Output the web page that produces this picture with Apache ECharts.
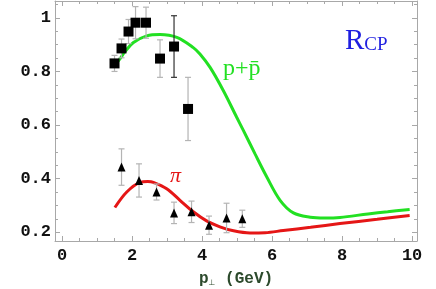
<!DOCTYPE html>
<html><head><meta charset="utf-8">
<script src="https://cdn.jsdelivr.net/npm/echarts@6/dist/echarts.min.js"></script>
<style>html,body{margin:0;padding:0;background:#fff}#c{width:436px;height:289px}</style>
</head><body><div id="c"></div>
<script>
// ---- data ----
const protonX   = [1.5, 1.7, 1.9, 2.1, 2.4, 2.8, 3.2, 3.6];
const protonY   = [0.830, 0.886, 0.949, 0.982, 0.982, 0.848, 0.893, 0.660];
const protonErr = [0.030, 0.035, 0.045, 0.060, 0.058, 0.070, 0.115, 0.118];

const pionX   = [1.7, 2.2, 2.7, 3.2, 3.7, 4.2, 4.7, 5.15];
const pionY   = [0.443, 0.393, 0.350, 0.272, 0.276, 0.226, 0.253, 0.250];
const pionErr = [0.068, 0.062, 0.030, 0.040, 0.040, 0.034, 0.055, 0.032];

const protonCurveX = [1.55, 1.66, 1.8, 2.04, 2.42, 2.8, 3.28, 3.75, 3.94, 4.23, 4.61, 4.99, 5.18, 5.51, 5.85, 6.23, 6.61, 7.09, 7.5, 7.94, 8.74, 9.3, 9.93];
const protonCurveY = [0.830, 0.848, 0.874, 0.908, 0.933, 0.938, 0.927, 0.889, 0.865, 0.815, 0.728, 0.629, 0.580, 0.493, 0.406, 0.319, 0.272, 0.256, 0.253, 0.255, 0.268, 0.276, 0.285];

const pionCurveX = [1.51, 1.85, 2.23, 2.45, 2.61, 2.99, 3.37, 3.75, 4.13, 4.51, 4.9, 5.37, 5.8, 6.32, 7.1, 7.94, 9.0, 9.93];
const pionCurveY = [0.292, 0.350, 0.386, 0.389, 0.386, 0.362, 0.319, 0.276, 0.242, 0.220, 0.205, 0.197, 0.198, 0.206, 0.218, 0.232, 0.248, 0.262];

const xMajorTicks = [0, 2, 4, 6, 8, 10];
const xMinorTicks = [0.5, 1, 1.5, 2.5, 3, 3.5, 4.5, 5, 5.5, 6.5, 7, 7.5, 8.5, 9, 9.5];
const yMajorTicks = [0.2, 0.4, 0.6, 0.8, 1.0];
const yMinorTicks = [0.25, 0.3, 0.35, 0.45, 0.5, 0.55, 0.65, 0.7, 0.75, 0.85, 0.9, 0.95, 1.05];
const yTickLabels = ['0.2', '0.4', '0.6', '0.8', '1'];

// ---- chart ----
const XMIN = -0.2, XMAX = 10.14, YMIN = 0.167, YMAX = 1.063;
const frameColor = '#a8a8a8';
const tickFont = {fontFamily: 'Liberation Mono', fontWeight: 'bold', fontSize: 17, color: '#111'};

function xAx(pos, ticks, len, withLine, withLabel) {
  return {
    type: 'value', min: XMIN, max: XMAX, position: pos, gridIndex: 0,
    axisLine: {show: withLine, onZero: false, lineStyle: {color: frameColor, width: 1}},
    axisTick: {show: true, inside: true, length: len, customValues: ticks, lineStyle: {color: frameColor}},
    axisLabel: withLabel ? Object.assign({show: true, margin: 6, customValues: ticks}, tickFont) : {show: false},
    splitLine: {show: false},
    name: withLabel ? '{p|p}{s|⊥}{g| (GeV)}' : '',
    nameLocation: 'middle', nameGap: 30,
    nameTextStyle: {rich: {
      p: {fontFamily: 'Liberation Mono', fontWeight: 'bold', fontSize: 16, color: '#2c4a2c'},
      s: {fontFamily: 'DejaVu Sans', fontSize: 8, color: '#2c4a2c', verticalAlign: 'bottom', padding: [6, 0, 0, 0]},
      g: {fontFamily: 'Liberation Mono', fontWeight: 'bold', fontSize: 16, color: '#2c4a2c'}
    }}
  };
}
function yAx(pos, ticks, len, withLine, withLabel) {
  return {
    type: 'value', min: YMIN, max: YMAX, position: pos, gridIndex: 0,
    axisLine: {show: withLine, onZero: false, lineStyle: {color: frameColor, width: 1}},
    axisTick: {show: true, inside: true, length: len, customValues: ticks, lineStyle: {color: frameColor}},
    axisLabel: withLabel ? Object.assign({show: true, margin: 4, customValues: ticks,
      formatter: v => yTickLabels[yMajorTicks.findIndex(t => Math.abs(t - v) < 1e-6)] || ''}, tickFont) : {show: false},
    splitLine: {show: false}
  };
}

function errData(xs, ys, es) {
  return xs.map((x, i) => [x, ys[i], ys[i] - es[i], ys[i] + es[i]]);
}
function errRender(darkIdx) {
  return function (params, api) {
    const x = api.value(0);
    const lo = api.coord([x, api.value(2)]);
    const hi = api.coord([x, api.value(3)]);
    const col = darkIdx.indexOf(params.dataIndex) >= 0 ? '#333' : '#b4b4b4';
    const cw = 3;
    const st = {stroke: col, lineWidth: 1.2};
    return {type: 'group', children: [
      {type: 'line', shape: {x1: lo[0], y1: lo[1], x2: hi[0], y2: hi[1]}, style: st},
      {type: 'line', shape: {x1: lo[0] - cw, y1: lo[1], x2: lo[0] + cw, y2: lo[1]}, style: st},
      {type: 'line', shape: {x1: hi[0] - cw, y1: hi[1], x2: hi[0] + cw, y2: hi[1]}, style: st}
    ]};
  };
}
const pairs = (xs, ys) => xs.map((x, i) => [x, ys[i]]);

const chart = echarts.init(document.getElementById('c'), null, {renderer: 'canvas'});
chart.setOption({
  animation: false,
  backgroundColor: '#fff',
  grid: {left: 55, right: 19, top: 1, bottom: 48, containLabel: false, outerBoundsMode: 'none'},
  xAxis: [
    xAx('bottom', xMajorTicks, 5, true, true),
    xAx('bottom', xMinorTicks, 3, false, false),
    xAx('top', xMajorTicks, 5, true, false),
    xAx('top', xMinorTicks, 3, false, false)
  ],
  yAxis: [
    yAx('left', yMajorTicks, 5, true, true),
    yAx('left', yMinorTicks, 3, false, false),
    yAx('right', yMajorTicks, 5, true, false),
    yAx('right', yMinorTicks, 3, false, false)
  ],
  series: [
    {type: 'line', name: 'p+pbar curve', data: pairs(protonCurveX, protonCurveY), smooth: 0.35,
     showSymbol: false, lineStyle: {color: '#22e022', width: 3}, z: 2},
    {type: 'line', name: 'pi curve', data: pairs(pionCurveX, pionCurveY), smooth: 0.35,
     showSymbol: false, lineStyle: {color: '#e51616', width: 3}, z: 2},
    {type: 'custom', name: 'p err', data: errData(protonX, protonY, protonErr),
     renderItem: errRender([6]), encode: {x: 0, y: [1, 2, 3]}, z: 3},
    {type: 'custom', name: 'pi err', data: errData(pionX, pionY, pionErr),
     renderItem: errRender([]), encode: {x: 0, y: [1, 2, 3]}, z: 3},
    {type: 'scatter', name: 'p', data: pairs(protonX, protonY), symbol: 'rect', symbolSize: 10,
     itemStyle: {color: '#000', opacity: 1}, z: 4},
    {type: 'scatter', name: 'pi', data: pairs(pionX, pionY), symbol: 'triangle', symbolSize: [8, 9],
     itemStyle: {color: '#000', opacity: 1}, z: 4}
  ],
  graphic: [
    {type: 'text', left: 223, top: 57, style: {text: 'p+p\u0304', font: '24px "Liberation Serif"', fill: '#22e022'}},
    {type: 'text', left: 345, top: 27, style: {
      text: '{r|R}{s|CP}',
      rich: {
        r: {fontFamily: 'Liberation Serif', fontSize: 29, fill: '#1f1fe0', color: '#1f1fe0'},
        s: {fontFamily: 'Liberation Serif', fontSize: 19, fill: '#1f1fe0', color: '#1f1fe0', padding: [8, 0, 0, 0]}
      }}},
    {type: 'text', left: 170, top: 165, style: {text: 'π', font: 'italic 22px "Liberation Serif"', fill: '#e51616'}}
  ]
});
</script>
</body></html>
